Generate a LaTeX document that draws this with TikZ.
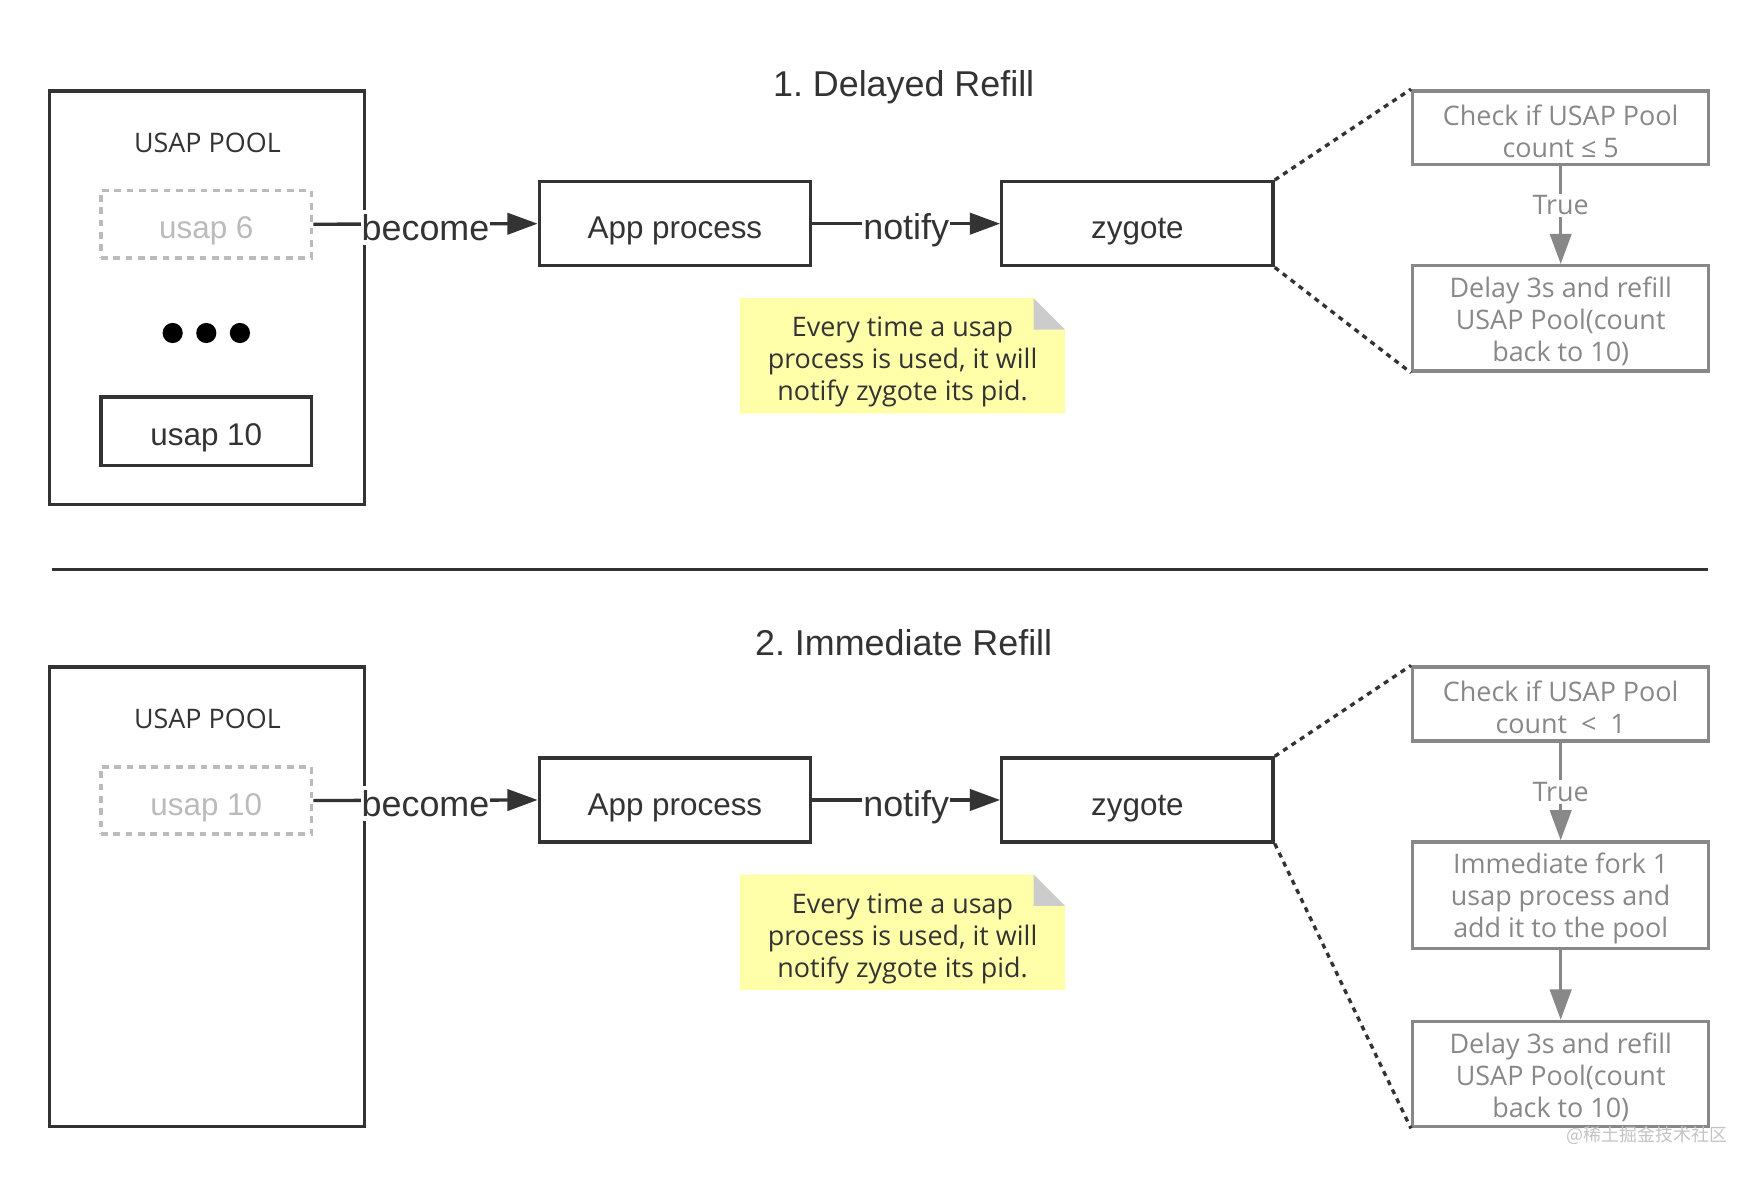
\documentclass[tikz,border=0pt]{standalone}
\usepackage{fontspec}
\setmainfont{Liberation Sans}
\newfontfamily\yh{Open Sans}
\newfontfamily\cjk{Noto Sans CJK SC}
\usetikzlibrary{arrows.meta}
\definecolor{dk}{HTML}{333333}
\definecolor{gr}{HTML}{888888}
\definecolor{lg}{HTML}{BBBBBB}
\definecolor{notey}{HTML}{FFFFAA}
\definecolor{fold}{HTML}{CCCCCC}
\definecolor{wm}{HTML}{C4C4C4}
\frenchspacing
\begin{document}
\begin{tikzpicture}[x=1pt,y=-1pt,
  pool/.style={draw=dk, line width=3pt, minimum width=281pt, minimum height=#1, inner sep=0pt},
  poolttl/.style={text=dk, font=\yh\fontsize{24}{28}\selectfont, inner sep=0pt},
  usapd/.style={draw=lg, line width=3pt, dash pattern=on 6pt off 5pt, minimum width=188pt, minimum height=60pt, inner sep=0pt, text height=26pt, text depth=0pt, text=lg, font=\fontsize{28}{32}\selectfont},
  usaps/.style={draw=dk, line width=3pt, minimum width=188pt, minimum height=61pt, inner sep=0pt, text height=26pt, text depth=0pt, text=dk, font=\fontsize{28}{32}\selectfont},
  proc/.style={draw=dk, line width=3pt, minimum width=242pt, minimum height=75pt, inner sep=0pt, text height=27pt, text depth=0pt, text=dk, font=\fontsize{28}{32}\selectfont},
  gbox/.style={draw=gr, line width=3pt, minimum width=264pt, minimum height=#1, inner sep=0pt},
  gtxt/.style={text=gr, align=center, inner sep=0pt, font=\yh\fontsize{24}{28.5}\selectfont},
  lbl/.style={fill=white, inner xsep=1pt, inner ysep=4pt, text height=23pt, text depth=0pt, yshift=-3pt, text=dk, font=\fontsize{32}{36}\selectfont},
  glbl/.style={fill=white, inner sep=2pt, text=gr, font=\yh\fontsize{24}{28}\selectfont},
  arr/.style={draw=dk, line width=3pt, -{Triangle[length=27pt,width=19pt]}},
  garr/.style={draw=gr, line width=3pt, -{Triangle[length=27pt,width=19pt]}},
  dotl/.style={draw=dk, line width=3pt, dash pattern=on 4.5pt off 4.5pt},
  ttl/.style={text=dk, font=\fontsize{32}{36}\selectfont},
  notetxt/.style={text=dk, align=center, font=\yh\fontsize{24}{28.5}\selectfont, inner sep=0pt},
  dotn/.style={circle, fill=black, minimum size=18pt, inner sep=0pt},
]
\useasboundingbox[fill=white] (0,0) rectangle (1568,1050);

% ---------- section 1 ----------
\node[ttl] (t1) at (806,78) {1. Delayed Refill};
\node[pool=369pt] (pool1) at (184.5,265.5) {};
\node[poolttl] (pt1) at (185,127) {USAP POOL};
\node[usapd] (u6) at (184,200) {usap 6};
\node[dotn] (d1) at (154,297) {};
\node[dotn] (d2) at (184,297) {};
\node[dotn] (d3) at (214,297) {};
\node[usaps] (u10a) at (184,384.5) {usap 10};
\node[proc] (app1) at (602,199.5) {App process};
\node[proc] (zy1) at (1014.5,199.5) {zygote};
\node[gbox=66pt] (chk1) at (1392,114) {};
\node[gtxt] (chk1t) at (1392,117) {Check if USAP Pool\\count ≤ 5};
\node[gbox=94pt] (del1) at (1392,284) {};
\node[gtxt] (del1t) at (1392,287) {Delay 3s and refill\\USAP Pool(count\\back to 10)};

\draw[arr] (u6.east) -- node[lbl]{become} (app1.west);
\draw[arr] (app1.east) -- node[lbl]{notify} (zy1.west);
\draw[garr] (chk1.south) -- node[glbl, pos=0.4]{True} (del1.north);
\draw[dotl] (zy1.north east) -- (chk1.north west);
\draw[dotl] (zy1.south east) -- (del1.south west);

\fill[notey] (660,266) -- (922,266) -- (950,294) -- (950,369) -- (660,369) -- cycle;
\fill[fold] (922,266) -- (950,294) -- (922,294) -- cycle;
\node[notetxt] (n1) at (805,323) {Every time a usap\\process is used, it will\\notify zygote its pid.};

% ---------- separator ----------
\coordinate (s1) at (46,508);
\coordinate (s2) at (1523,508);
\draw[dk, line width=3pt] (s1) -- (s2);

% ---------- section 2 ----------
\node[ttl] (t2) at (806,573) {2. Immediate Refill};
\node[pool=410pt] (pool2) at (184.5,800) {};
\node[poolttl] (pt2) at (185,641) {USAP POOL};
\node[usapd] (u10b) at (184,714) {usap 10};
\node[proc] (app2) at (602,713.5) {App process};
\node[proc] (zy2) at (1014.5,713.5) {zygote};
\node[gbox=66pt] (chk2) at (1392,628) {};
\node[gtxt] (chk2t) at (1392,631) {Check if USAP Pool\\count\ \ <\ \ 1};
\node[gbox=95pt] (imm2) at (1392,798.5) {};
\node[gtxt] (imm2t) at (1392,801.5) {Immediate fork 1\\usap process and\\add it to the pool};
\node[gbox=94pt] (del2) at (1392,958) {};
\node[gtxt] (del2t) at (1392,961) {Delay 3s and refill\\USAP Pool(count\\back to 10)};

\draw[arr] (u10b.east) -- node[lbl]{become} (app2.west);
\draw[arr] (app2.east) -- node[lbl]{notify} (zy2.west);
\draw[garr] (chk2.south) -- node[glbl, pos=0.5]{True} (imm2.north);
\draw[garr] (imm2.south) -- (del2.north);
\draw[dotl] (zy2.north east) -- (chk2.north west);
\draw[dotl] (zy2.south east) -- (del2.south west);

\fill[notey] (660,780) -- (922,780) -- (950,808) -- (950,883) -- (660,883) -- cycle;
\fill[fold] (922,780) -- (950,808) -- (922,808) -- cycle;
\node[notetxt] (n2) at (805,837) {Every time a usap\\process is used, it will\\notify zygote its pid.};

\node[text=wm, font=\cjk\fontsize{16}{18}\selectfont, inner sep=0pt] (wmk) at (1469,1013) {@稀土掘金技术社区};
\end{tikzpicture}
\end{document}
